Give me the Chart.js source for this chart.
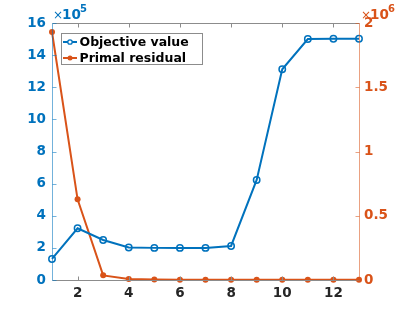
<!DOCTYPE html>
<html>
<head>
<meta charset="utf-8">
<script src="https://cdn.jsdelivr.net/npm/chart.js@4"></script>
<style>
  html, body { margin: 0; padding: 0; background: #fff; }
  #wrap { width: 399px; height: 314px; }
</style>
</head>
<body>
<div id="wrap"><canvas id="myChart" width="399" height="314"></canvas></div>
<script>
var iterations = [1, 2, 3, 4, 5, 6, 7, 8, 9, 10, 11, 12, 13];
var objectiveValue = [1.31e5, 3.22e5, 2.49e5, 2.02e5, 2.0e5, 2.0e5, 2.0e5, 2.12e5, 6.23e5, 13.12e5, 15.0e5, 15.02e5, 15.02e5];
var primalResidual = [1.93e6, 0.628e6, 0.036e6, 0.008e6, 0.003e6, 0.002e6, 0.002e6, 0.002e6, 0.002e6, 0.002e6, 0.002e6, 0.002e6, 0.002e6];
var xTicks = [2, 4, 6, 8, 10, 12];
var leftTicks = [0, 2, 4, 6, 8, 10, 12, 14, 16];
var rightTicks = [0, 0.5, 1, 1.5, 2];

var BLUE = '#0072BD';
var ORANGE = '#D95319';
var FONT = 'DejaVu Sans';

function pts(ys) {
  return iterations.map(function (x, i) { return { x: x, y: ys[i] }; });
}

// box, inward ticks, exponent labels and legend, MATLAB style.
var axesBox = {
  id: 'axesBox',
  afterDraw: function (chart) {
    var ctx = chart.ctx;
    var a = chart.chartArea;
    var sx = chart.scales.x, sl = chart.scales.yL, sr = chart.scales.yR;
    var L = Math.round(a.left) + 0.5, R = Math.round(a.right) + 0.5;
    var T = Math.round(a.top) + 0.5, B = Math.round(a.bottom) + 0.5;
    ctx.save();
    ctx.lineWidth = 1;

    ctx.strokeStyle = '#8c8c8c';
    ctx.beginPath();
    ctx.moveTo(L, T); ctx.lineTo(R, T);
    ctx.moveTo(L, B); ctx.lineTo(R, B);
    xTicks.forEach(function (v) {
      var px = Math.round(sx.getPixelForValue(v)) + 0.5;
      ctx.moveTo(px, B); ctx.lineTo(px, B - 4);
      ctx.moveTo(px, T); ctx.lineTo(px, T + 4);
    });
    ctx.stroke();

    ctx.strokeStyle = 'rgba(0,114,189,0.55)';
    ctx.beginPath();
    ctx.moveTo(L, T); ctx.lineTo(L, B);
    leftTicks.forEach(function (v) {
      var py = Math.round(sl.getPixelForValue(v * 1e5)) + 0.5;
      ctx.moveTo(L, py); ctx.lineTo(L + 4, py);
    });
    ctx.stroke();

    ctx.strokeStyle = 'rgba(217,83,25,0.55)';
    ctx.beginPath();
    ctx.moveTo(R, T); ctx.lineTo(R, B);
    rightTicks.forEach(function (v) {
      var py = Math.round(sr.getPixelForValue(v * 1e6)) + 0.5;
      ctx.moveTo(R, py); ctx.lineTo(R - 4, py);
    });
    ctx.stroke();

    // exponent labels
    function expLabel(x, color, exp) {
      ctx.fillStyle = color;
      ctx.textBaseline = 'alphabetic';
      ctx.textAlign = 'left';
      ctx.font = '12px ' + FONT;
      ctx.fillText('\u00d7', x, 19);
      ctx.font = 'bold 13.5px ' + FONT;
      ctx.fillText('10', x + 9, 19);
      ctx.font = 'bold 10px ' + FONT;
      ctx.fillText(exp, x + 27, 12);
    }
    expLabel(53, BLUE, '5');
    expLabel(361, ORANGE, '6');

    // legend
    ctx.fillStyle = '#fff';
    ctx.fillRect(61, 33, 142, 32);
    ctx.strokeStyle = '#8c8c8c';
    ctx.strokeRect(61.5, 33.5, 141, 31);
    var rows = [
      { label: 'Objective value', color: BLUE, y: 42, open: true },
      { label: 'Primal residual', color: ORANGE, y: 58, open: false }
    ];
    rows.forEach(function (r) {
      ctx.strokeStyle = r.color;
      ctx.lineWidth = 2;
      ctx.beginPath();
      ctx.moveTo(63, r.y); ctx.lineTo(77, r.y);
      ctx.stroke();
      ctx.beginPath();
      ctx.arc(70, r.y, r.open ? 2.2 : 2.5, 0, Math.PI * 2);
      if (r.open) {
        ctx.lineWidth = 1.3;
        ctx.fillStyle = '#fff';
        ctx.fill();
        ctx.stroke();
      } else {
        ctx.fillStyle = r.color;
        ctx.fill();
      }
      ctx.fillStyle = '#000';
      ctx.font = 'bold 12.5px ' + FONT;
      ctx.textAlign = 'left';
      ctx.textBaseline = 'middle';
      ctx.fillText(r.label, 79.5, r.y + 0.5);
    });
    ctx.restore();
  }
};

new Chart(document.getElementById('myChart'), {
  type: 'line',
  data: {
    datasets: [{
      label: 'Objective value',
      data: pts(objectiveValue),
      yAxisID: 'yL',
      borderColor: BLUE,
      borderWidth: 2,
      backgroundColor: '#fff',
      pointRadius: 3.2,
      pointBorderWidth: 1.5,
      pointBorderColor: BLUE,
      pointBackgroundColor: 'rgba(255,255,255,0)',
      tension: 0,
      clip: false
    }, {
      label: 'Primal residual',
      data: pts(primalResidual),
      yAxisID: 'yR',
      borderColor: ORANGE,
      borderWidth: 2,
      pointRadius: 3,
      pointBorderWidth: 0,
      pointBackgroundColor: ORANGE,
      tension: 0,
      clip: false
    }]
  },
  options: {
    responsive: false,
    animation: false,
    events: [],
    layout: { padding: { top: 23, left: 0, right: 0, bottom: 0 } },
    plugins: { legend: { display: false }, tooltip: { enabled: false } },
    scales: {
      x: {
        type: 'linear',
        min: 1, max: 13,
        grid: { display: false, drawTicks: false },
        border: { display: false },
        afterBuildTicks: function (s) { s.ticks = xTicks.map(function (v) { return { value: v }; }); },
        afterFit: function (s) { s.height = 34; },
        ticks: { padding: 5, color: '#262626', font: { family: FONT, size: 13.5, weight: 'bold' } }
      },
      yL: {
        position: 'left',
        min: 0, max: 16e5,
        grid: { display: false, drawTicks: false },
        border: { display: false },
        afterBuildTicks: function (s) { s.ticks = leftTicks.map(function (v) { return { value: v * 1e5 }; }); },
        afterFit: function (s) { s.width = 52; },
        ticks: {
          padding: 6, color: BLUE, font: { family: FONT, size: 13.5, weight: 'bold' },
          callback: function (v) { return String(Math.round(v / 1e5)); }
        }
      },
      yR: {
        position: 'right',
        min: 0, max: 2e6,
        grid: { display: false, drawTicks: false },
        border: { display: false },
        afterBuildTicks: function (s) { s.ticks = rightTicks.map(function (v) { return { value: v * 1e6 }; }); },
        afterFit: function (s) { s.width = 40; },
        ticks: {
          padding: 5, color: ORANGE, font: { family: FONT, size: 13.5, weight: 'bold' },
          callback: function (v) { return String(v / 1e6); }
        }
      }
    }
  },
  plugins: [axesBox]
});
</script>
</body>
</html>
